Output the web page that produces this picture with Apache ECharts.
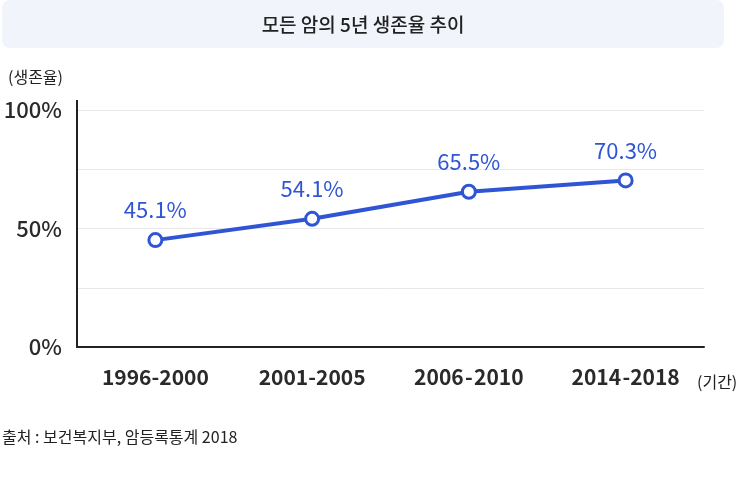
<!DOCTYPE html>
<html>
<head>
<meta charset="utf-8">
<script src="https://cdn.jsdelivr.net/npm/echarts@6/dist/echarts.min.js"></script>
<style>html,body{margin:0;padding:0;background:#fff;}#c{width:750px;height:480px;}</style>
</head>
<body>
<div id="c"></div>
<script>
const categories = ['1996-2000', '2001-2005', '2006\u200A-\u200A2010', '2014\u200A-2018'];
const survival = [45.1, 54.1, 65.5, 70.3];
const yTicksShown = [0, 50, 100];
const titleText = '모든 암의 5년 생존율 추이';
const yName = '(생존율)';
const xName = '(기간)';
const sourceText = '출처 : 보건복지부, 암등록통계 2018';

const FONT = '"Noto Sans CJK KR", "Noto Sans", sans-serif';
const BLUE = '#2f55d4';
const chart = echarts.init(document.getElementById('c'), null, {renderer: 'canvas'});
chart.setOption({
  animation: false,
  textStyle: {fontFamily: FONT},
  graphic: [
    {type: 'rect', left: 2, top: 0, shape: {width: 722, height: 48, r: 8}, style: {fill: '#f1f4fa'}, z: 0},
    {type: 'text', x: 363, y: 25, style: {text: titleText, fill: '#222', font: '500 19px ' + FONT, align: 'center', verticalAlign: 'middle'}},
    {type: 'text', x: 8, y: 77, style: {text: yName, fill: '#222', font: '16px ' + FONT, align: 'left', verticalAlign: 'middle'}},
    {type: 'text', x: 697, y: 382, style: {text: xName, fill: '#222', font: '16px ' + FONT, align: 'left', verticalAlign: 'middle'}},
    {type: 'text', x: 2, y: 437, style: {text: sourceText, fill: '#222', font: '16px ' + FONT, align: 'left', verticalAlign: 'middle'}},
    {type: 'line', shape: {x1: 77, y1: 100, x2: 77, y2: 111}, style: {stroke: '#222', lineWidth: 2}}
  ],
  grid: {left: 77, right: 46, top: 110, bottom: 133},
  xAxis: {
    type: 'category',
    data: categories,
    boundaryGap: true,
    axisLine: {show: true, lineStyle: {color: '#222', width: 2}},
    axisTick: {show: false},
    axisLabel: {color: '#2a2a2a', fontSize: 21, fontWeight: 600, margin: 20, fontFamily: FONT}
  },
  yAxis: {
    type: 'value',
    min: 0, max: 100, interval: 25,
    axisLine: {show: true, lineStyle: {color: '#222', width: 2}},
    axisTick: {show: false},
    splitLine: {lineStyle: {color: '#e8e8e8', width: 1}},
    axisLabel: {
      color: '#2a2a2a', fontSize: 22, fontWeight: 500, margin: 15, fontFamily: FONT,
      formatter: v => yTicksShown.includes(v) ? v + '%' : ''
    }
  },
  series: [{
    type: 'line',
    data: survival,
    lineStyle: {color: BLUE, width: 4},
    itemStyle: {color: '#fff', borderColor: BLUE, borderWidth: 3},
    symbol: 'circle',
    symbolSize: 13,
    label: {show: true, position: 'top', distance: 11, color: BLUE, fontSize: 22, fontFamily: FONT, formatter: p => p.value + '%'}
  }]
});
</script>
</body>
</html>
